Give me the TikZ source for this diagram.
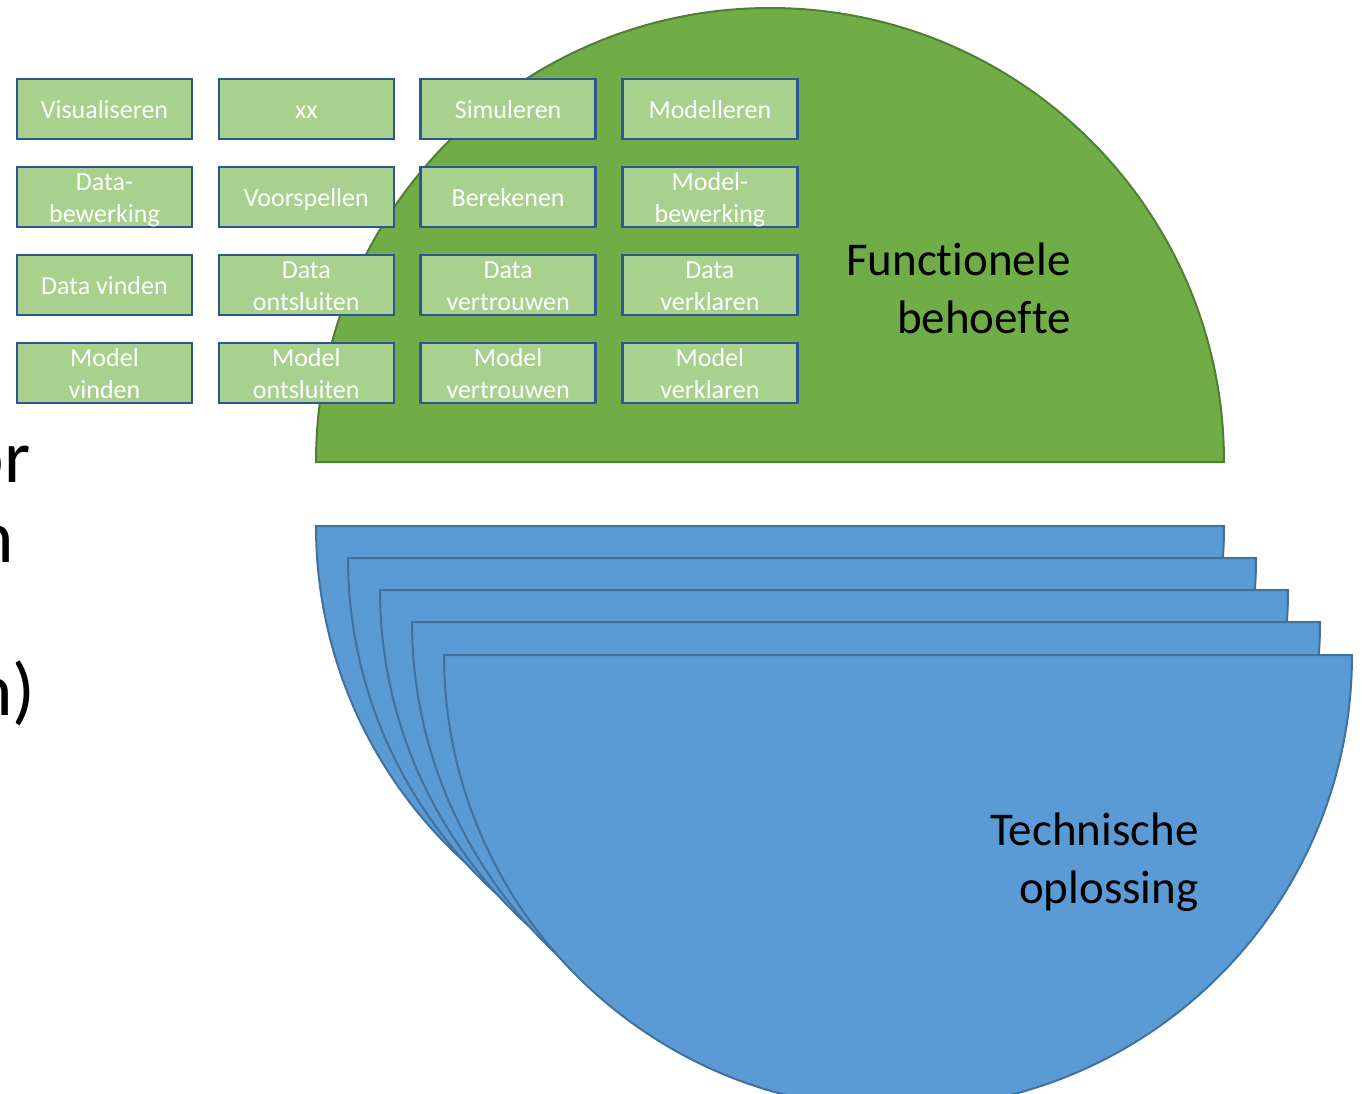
\documentclass[tikz,border=0pt]{standalone}
\usepackage{fontspec}
\setmainfont[Ligatures=NoCommon]{Carlito}
\usetikzlibrary{positioning}

\definecolor{behoeftefill}{HTML}{70AD47}
\definecolor{behoefteline}{HTML}{507E32}
\definecolor{oplossingfill}{HTML}{5B9BD5}
\definecolor{oplossingline}{HTML}{41719C}
\definecolor{taakfill}{HTML}{A9D18E}
\definecolor{taakline}{HTML}{2F5597}

\tikzset{
  taak/.style={draw=taakline, fill=taakfill, line width=1.2pt, text=white,
    minimum width=87.5pt, minimum height=30pt, inner sep=0pt, align=center,
    font=\fontsize{13}{16}\selectfont, text height=19.5pt, text depth=10.5pt},
  twee/.style={text height=27.5pt, text depth=2.5pt},
  behoefte/.style={draw=behoefteline, fill=behoeftefill, line width=1pt},
  oplossing/.style={draw=oplossingline, fill=oplossingfill, line width=1pt},
  kop/.style={inner sep=0pt, align=right, anchor=east,
    font=\fontsize{23.5}{29}\selectfont},
  rand/.style={inner sep=0pt, anchor=base east,
    font=\fontsize{37.5}{45}\selectfont},
}

\begin{document}
\begin{tikzpicture}[x=0.5pt, y=-0.5pt]

\useasboundingbox (0,0) rectangle (1366,1093);
\clip (0,0) rectangle (1366,1093);

% functionele behoefte
\draw[behoefte] (316,462) arc[start angle=180, end angle=360, radius=454] -- cycle;

\node[taak] (visualiseren) at (104.5,109) {Visualiseren};
\node[taak, right=12.2pt of visualiseren] (xx) {xx};
\node[taak, right=12.2pt of xx] (simuleren) {Simuleren};
\node[taak, right=12.2pt of simuleren] (modelleren) {Modelleren};

\node[taak, twee, below=12.8pt of visualiseren] (data-bewerking) {Data-\\bewerking};
\node[taak, right=12.2pt of data-bewerking] (voorspellen) {Voorspellen};
\node[taak, right=12.2pt of voorspellen] (berekenen) {Berekenen};
\node[taak, twee, right=12.2pt of berekenen] (model-bewerking) {Model-\\bewerking};

\node[taak, below=12.8pt of data-bewerking] (data-vinden) {Data vinden};
\node[taak, twee, right=12.2pt of data-vinden] (data-ontsluiten) {Data\\ontsluiten};
\node[taak, twee, right=12.2pt of data-ontsluiten] (data-vertrouwen) {Data\\vertrouwen};
\node[taak, twee, right=12.2pt of data-vertrouwen] (data-verklaren) {Data\\verklaren};

\node[taak, twee, below=12.8pt of data-vinden] (model-vinden) {Model\\vinden};
\node[taak, twee, right=12.2pt of model-vinden] (model-ontsluiten) {Model\\ontsluiten};
\node[taak, twee, right=12.2pt of model-ontsluiten] (model-vertrouwen) {Model\\vertrouwen};
\node[taak, twee, right=12.2pt of model-vertrouwen] (model-verklaren) {Model\\verklaren};

\node[kop] (behoefte-label) at (1071,288) {Functionele\\behoefte};

% technische oplossingen, achterste eerst
\draw[oplossing] (316,526) -- (1224,526) arc[start angle=0, end angle=180, radius=454] -- cycle;
\draw[oplossing] (348,558) -- (1256,558) arc[start angle=0, end angle=180, radius=454] -- cycle;
\draw[oplossing] (380,590) -- (1288,590) arc[start angle=0, end angle=180, radius=454] -- cycle;
\draw[oplossing] (412,622) -- (1320,622) arc[start angle=0, end angle=180, radius=454] -- cycle;
\draw[oplossing] (444,655) -- (1352,655) arc[start angle=0, end angle=180, radius=454] -- cycle;

\node[kop] (oplossing-label) at (1199,862) {Technische\\oplossing};

% afgesneden tekst links
\node[rand] (rand-or) at (31,482) {or};
\node[rand] (rand-n) at (14,562) {n};
\node[rand] (rand-n-2) at (36,715) {n)};

\end{tikzpicture}
\end{document}
